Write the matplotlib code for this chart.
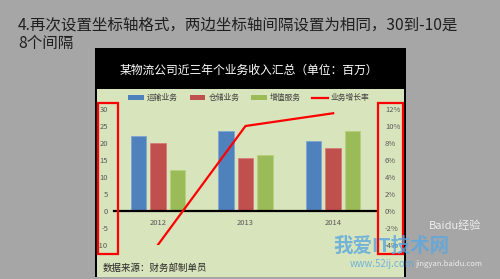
import numpy as np
import matplotlib
matplotlib.use('Agg')
import matplotlib.pyplot as plt
from matplotlib.patches import Rectangle, Patch
from matplotlib.lines import Line2D

plt.rcParams['font.family'] = ['Noto Sans CJK SC', 'DejaVu Sans']

# data
years = ['2012', '2013', '2014']
transport = [22, 23.5, 20.5]      # 运输业务
storage = [20, 15.5, 18.5]        # 仓储业务
value_added = [12, 16.5, 23.5]    # 增值服务
growth = [-4, 10, 11.5]           # 业务增长率 (%)
left_ticks = [30, 25, 20, 15, 10, 5, 0, -5, -10]
right_ticks = [12, 10, 8, 6, 4, 2, 0, -2, -4]

W, H = 500, 279
fig = plt.figure(figsize=(W / 100, H / 100), dpi=100)
fig.patch.set_facecolor('#a6a6a6')


def fx(x):
    return x / W


def fy(y):
    return 1 - y / H


def box(x0, y0, x1, y1, **kw):
    r = Rectangle((fx(x0), fy(y1)), fx(x1) - fx(x0), fy(y0) - fy(y1),
                  transform=fig.transFigure, **kw)
    fig.add_artist(r)
    return r


# slide frame: black title bar, light green chart area
box(95, 48, 406, 277, facecolor='black', edgecolor='none', zorder=0)
box(97, 89, 404, 277, facecolor='#d8e4bc', edgecolor='none', zorder=0)

# slide text
fig.text(fx(18), fy(25), '4.再次设置坐标轴格式，两边坐标轴间隔设置为相同，30到-10是',
         fontsize=11.2, color='#1f1f1f', ha='left', va='center')
fig.text(fx(18), fy(43), '8个间隔', fontsize=11.2, color='#1f1f1f',
         ha='left', va='center')
fig.text(fx(249), fy(70), '某物流公司近三年个业务收入汇总（单位：百万）',
         fontsize=8.5, color='white', ha='center', va='center')
fig.text(fx(103), fy(268), '数据来源：财务部制单员', fontsize=6.8,
         color='#262626', ha='left', va='center')

# chart
ax = fig.add_axes([fx(114), fy(245), fx(377) - fx(114), fy(109) - fy(245)])
ax.patch.set_visible(False)
x = np.arange(len(years))
bw = 0.177
step = 0.222
c_blue, c_red, c_green = '#4f81bd', '#c0504d', '#9bbb59'
ax.bar(x - step, transport, bw, color=c_blue, edgecolor='#7ea5d6', linewidth=0.6)
ax.bar(x, storage, bw, color=c_red, edgecolor='#d67a77', linewidth=0.6)
ax.bar(x + step, value_added, bw, color=c_green, edgecolor='#b6d17f', linewidth=0.6)
ax.set_xlim(-0.5, 2.5)
ax.set_ylim(-10, 30)
ax.set_yticks(left_ticks)
ax.set_yticklabels([str(v) for v in left_ticks])
ax.set_xticks(x)
ax.set_xticklabels(years)
for s in ['top', 'right', 'left']:
    ax.spines[s].set_visible(False)
ax.spines['bottom'].set_position(('data', 0))
ax.spines['bottom'].set_linewidth(1.6)
ax.spines['bottom'].set_color('black')
ax.tick_params(axis='y', length=0, pad=4.3, labelsize=5.5, labelcolor='#595959')
ax.tick_params(axis='x', length=0, pad=5.5, labelsize=5.5, labelcolor='#595959')

ax2 = ax.twinx()
ax2.patch.set_visible(False)
ax2.plot(x, growth, color='#ff0000', linewidth=1.6)
ax2.set_ylim(-4, 12)
ax2.set_yticks(right_ticks)
ax2.set_yticklabels(['%d%%' % v for v in right_ticks])
for s in ax2.spines.values():
    s.set_visible(False)
ax2.tick_params(axis='y', length=0, pad=5.8, labelsize=5.5, labelcolor='#595959')

# legend
handles = [Patch(facecolor=c_blue), Patch(facecolor=c_red), Patch(facecolor=c_green),
           Line2D([], [], color='#ff0000', linewidth=1.6)]
labels = ['运输业务', '仓储业务', '增值服务', '业务增长率']
fig.legend(handles, labels, loc='center', bbox_to_anchor=(fx(249), fy(98)),
           ncol=4, frameon=False, fontsize=5.6, handlelength=2.0,
           handleheight=0.55, handletextpad=0.4, columnspacing=1.5,
           labelcolor='#404040')

# red highlight boxes around both axes
box(98, 103, 118, 254, facecolor='none', edgecolor='#ff0000', linewidth=1.6, zorder=5)
box(378, 103, 403, 254, facecolor='none', edgecolor='#ff0000', linewidth=1.6, zorder=5)

# watermarks
fig.text(fx(333), fy(246), '我爱IT技术网', fontsize=14, fontweight='bold',
         color='#5aa7e0', alpha=0.8, ha='left', va='center', zorder=6)
fig.text(fx(350), fy(264), 'www.52ij.com', fontsize=7, color='#5aa7e0',
         alpha=0.8, ha='left', va='center', zorder=6)
fig.text(fx(455), fy(226), 'Baidu经验', fontsize=8, color='white',
         alpha=0.8, ha='center', va='center', zorder=6)
fig.text(fx(415), fy(264), 'jingyan.baidu.com', fontsize=5.5, color='white',
         alpha=0.8, ha='left', va='center', zorder=6)

fig.savefig('out.png', dpi=100)
plt.close(fig)
